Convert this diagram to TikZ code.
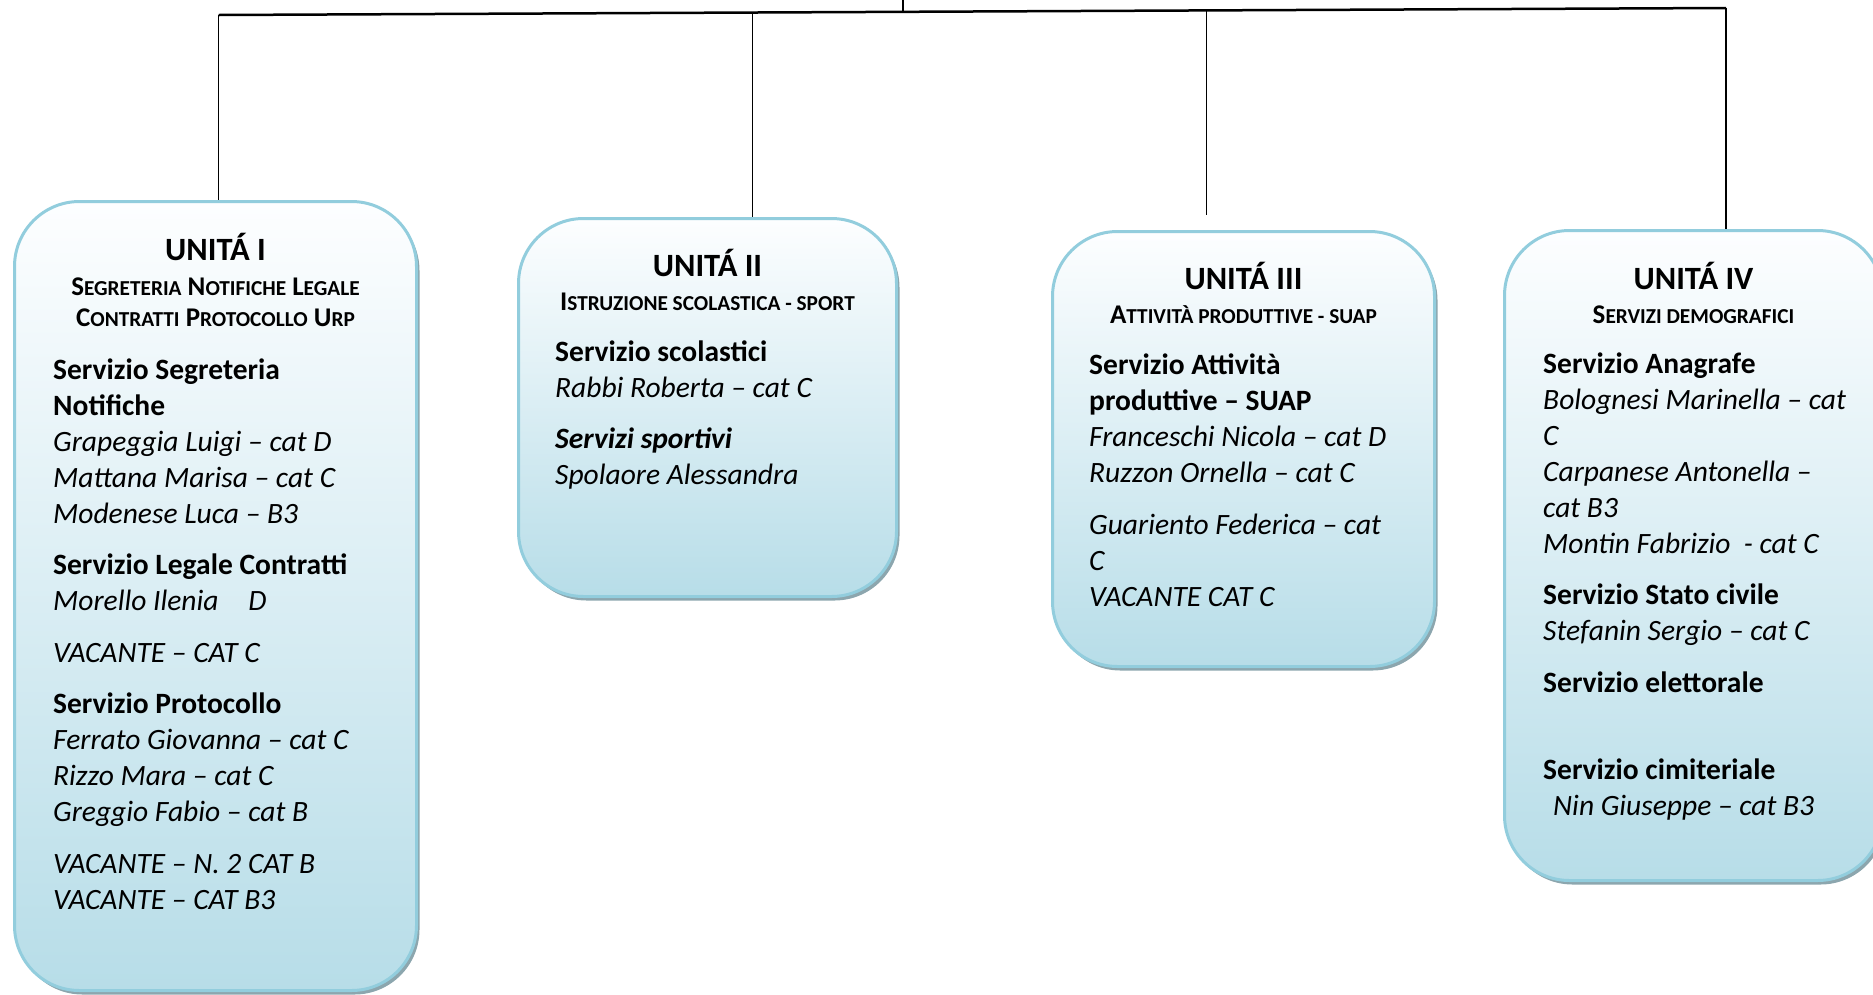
\documentclass[tikz,border=0pt]{standalone}
\usepackage{fontspec}
\setmainfont{Carlito}
\usepackage{tikz}
\usetikzlibrary{calc,shadows}
\definecolor{boxline}{RGB}{146,205,221}
\definecolor{boxtop}{RGB}{253,254,255}
\definecolor{boxbottom}{RGB}{183,221,232}
\definecolor{boxshadow}{RGB}{140,166,174}
\newcommand{\smc}[1]{{\fontsize{21.3}{24}\selectfont #1}}
\newcommand{\llines}[1]{\begin{tabular}[t]{@{}l@{}}#1\end{tabular}}
\newcommand{\clines}[1]{\begin{tabular}[t]{@{}c@{}}#1\end{tabular}}
\tikzset{
  unitbox/.style={draw=boxline, line width=3pt, rounded corners=65pt, top color=boxtop, bottom color=boxbottom,
    drop shadow={shadow xshift=3pt, shadow yshift=-4pt, fill=boxshadow, opacity=1}, anchor=north west, inner sep=0pt},
  unittitle/.style={anchor=base, inner sep=0pt, font=\fontsize{32.5}{36}\selectfont\bfseries},
  unitsub/.style={anchor=base, inner sep=0pt, font=\fontsize{27}{31.7}\selectfont\bfseries},
  unitbody/.style={anchor=base west, inner sep=0pt, font=\fontsize{29.5}{36}\selectfont},
  link/.style={line width=1.3pt}
}

\begin{document}
\begin{tikzpicture}[x=1pt,y=-1pt]
\useasboundingbox (0,0) rectangle (1873,994);

% the four units
\node[unitbox, minimum width=402, minimum height=789] (u1) at (13,200) {};
\node[unitbox, minimum width=378, minimum height=378] (u2) at (517,217) {};
\node[unitbox, minimum width=382, minimum height=435] (u3) at (1051,230) {};
\node[unitbox, minimum width=378, minimum height=650] (u4) at (1503,229) {};

% bar on top
\coordinate (top) at (903,0);
\coordinate (stem) at (903,11.5);
\coordinate (b1) at (218.6,15);
\coordinate (b2) at (752.7,12.5);
\coordinate (b3) at (1206.7,10.4);
\coordinate (b4) at (1726,8);
\draw[line width=2.5pt] (b1) -- (b4);
\draw[link] (top) -- (stem);
\draw[link] (b1) -- (b1 |- u1.north);
\draw[link] (b2) -- (b2 |- u2.north);
\draw[link] (b3) -- ([yshift=15pt]b3 |- u3.north);
\draw[link] (b4) -- (b4 |- u4.north);

% unit I
\node[unittitle] (t1) at ($(u1.north)+(0,60.5)$) {UNITÁ I};
\node[unitsub] (s1) at ($(u1.north)+(0,95)$) {\clines{S\smc{EGRETERIA} N\smc{OTIFICHE} L\smc{EGALE}\\ C\smc{ONTRATTI} P\smc{ROTOCOLLO} U\smc{RP}}};
\node[unitbody] (l1) at ($(u1.north west)+(40,179)$) {\llines{%
\textbf{Servizio Segreteria}\\
\textbf{Notifiche}\\
\textit{Grapeggia Luigi – cat D}\\
\textit{Mattana Marisa – cat C}\\
\textit{Modenese Luca – B3}\\[15.5pt]
\textbf{Servizio Legale Contratti}\\
\textit{Morello Ilenia\hspace{30pt}D}\\[15.5pt]
\textit{VACANTE – CAT C}\\[15.5pt]
\textbf{Servizio Protocollo}\\
\textit{Ferrato Giovanna – cat C}\\
\textit{Rizzo Mara – cat C}\\
\textit{Greggio Fabio – cat B}\\[15.5pt]
\textit{VACANTE – N. 2 CAT B}\\
\textit{VACANTE – CAT B3}}};

% unit II
\node[unittitle] (t2) at ($(u2.north)+(0,59)$) {UNITÁ II};
\node[unitsub] (s2) at ($(u2.north)+(0,93)$) {I\smc{STRUZIONE SCOLASTICA - SPORT}};
\node[unitbody] (l2) at ($(u2.north west)+(38,144)$) {\llines{%
\textbf{Servizio scolastici}\\
\textit{Rabbi Roberta – cat C}\\[15pt]
\textbf{\textit{Servizi sportivi}}\\
\textit{Spolaore Alessandra}}};

% unit III
\node[unittitle] (t3) at ($(u3.north)+(0,59)$) {UNITÁ III};
\node[unitsub] (s3) at ($(u3.north)+(0,93)$) {A\smc{TTIVITÀ PRODUTTIVE - SUAP}};
\node[unitbody] (l3) at ($(u3.north west)+(38,144)$) {\llines{%
\textbf{Servizio Attività}\\
\textbf{produttive – SUAP}\\
\textit{Franceschi Nicola – cat D}\\
\textit{Ruzzon Ornella – cat C}\\[16pt]
\textit{Guariento Federica – cat}\\
\textit{C}\\
\textit{VACANTE CAT C}}};

% unit IV
\node[unittitle] (t4) at ($(u4.north)+(0,60)$) {UNITÁ IV};
\node[unitsub] (s4) at ($(u4.north)+(0,94)$) {S\smc{ERVIZI DEMOGRAFICI}};
\node[unitbody] (l4) at ($(u4.north west)+(40,144)$) {\llines{%
\textbf{Servizio Anagrafe}\\
\textit{Bolognesi Marinella – cat}\\
\textit{C}\\
\textit{Carpanese Antonella –}\\
\textit{cat B3}\\
\textit{Montin Fabrizio\ \ - cat C}\\[15pt]
\textbf{Servizio Stato civile}\\
\textit{Stefanin Sergio – cat C}\\[16pt]
\textbf{Servizio elettorale}\\[51pt]
\textbf{Servizio cimiteriale}\\
\hspace{10pt}\textit{Nin Giuseppe – cat B3}}};
\end{tikzpicture}
\end{document}
